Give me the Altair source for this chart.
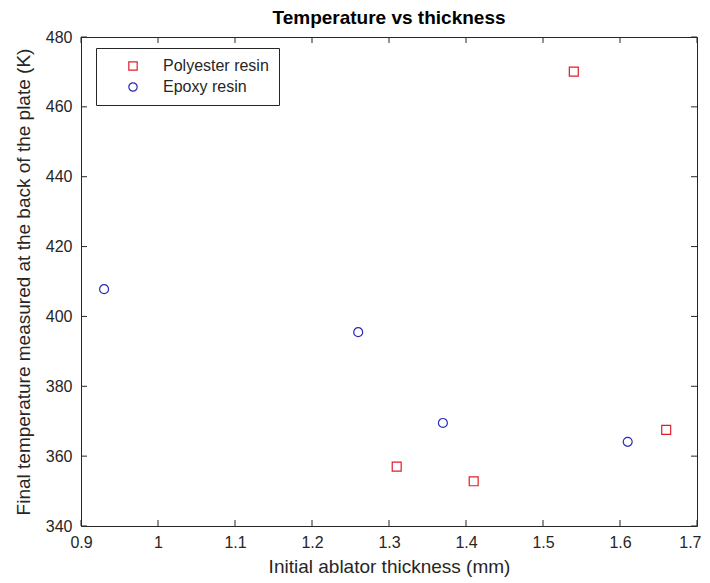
import altair as alt
import pandas as pd

# ---- data ----
poly_x = [1.31, 1.41, 1.54, 1.66]
poly_y = [357.0, 352.8, 470.1, 367.5]
epoxy_x = [0.93, 1.26, 1.37, 1.61]
epoxy_y = [407.8, 395.5, 369.5, 364.1]
series_names = ["Polyester resin", "Epoxy resin"]
x_ticks = [0.9, 1.0, 1.1, 1.2, 1.3, 1.4, 1.5, 1.6, 1.7]
y_ticks = [340, 360, 380, 400, 420, 440, 460, 480]

W, H = 616, 489
INK = "#262626"
FONT = "Liberation Sans"
TICK = 6

df = pd.DataFrame({
    "x": poly_x + epoxy_x,
    "y": poly_y + epoxy_y,
    "series": [series_names[0]] * len(poly_x) + [series_names[1]] * len(epoxy_x),
})
xt = pd.DataFrame({"x": x_ticks})
yt = pd.DataFrame({"y": y_ticks})

xscale = alt.Scale(domain=[0.9, 1.7], nice=False, zero=False)
yscale = alt.Scale(domain=[340, 480], nice=False, zero=False)

last_x = x_ticks[-1]
x_axis = alt.Axis(values=x_ticks, format="~g", title="Initial ablator thickness (mm)",
                  ticks=False, tickSize=0, domain=False, grid=False, labelPadding=8,
                  labelFlush=False, titlePadding=7,
                  labelAlign={"condition": {"test": f"datum.value >= {last_x}", "value": "right"},
                              "value": "center"},
                  labelOffset={"condition": {"test": f"datum.value >= {last_x}", "value": 4},
                               "value": 0})
y_axis = alt.Axis(values=y_ticks, title="Final temperature measured at the back of the plate (K)",
                  ticks=False, tickSize=0, domain=False, grid=False, labelPadding=9,
                  labelFlush=False, titlePadding=12)
X = alt.X("x:Q", scale=xscale, axis=x_axis)
Y = alt.Y("y:Q", scale=yscale, axis=y_axis)

points = alt.Chart(df).mark_point(filled=False, strokeWidth=1.2, size=80, opacity=1).encode(
    x=X,
    y=Y,
    color=alt.Color("series:N",
                    scale=alt.Scale(domain=series_names, range=["#dd1f2b", "#2b2bb5"]),
                    legend=alt.Legend(title=None, orient="none", legendX=15, legendY=11,
                                      fillColor="white", strokeColor=INK, padding=10,
                                      symbolOffset=19, labelOffset=22, rowPadding=5,
                                      labelFontSize=16, labelFont=FONT, labelColor=INK,
                                      symbolStrokeWidth=1.2, symbolSize=70,
                                      symbolFillColor="transparent")),
    shape=alt.Shape("series:N",
                    scale=alt.Scale(domain=series_names, range=["square", "circle"]),
                    legend=None),
)

rule_kw = dict(color=INK, strokeWidth=1)
bottom = alt.Chart(xt).mark_rule(**rule_kw).encode(x=X, y=alt.value(H), y2=alt.value(H - TICK))
top = alt.Chart(xt).mark_rule(**rule_kw).encode(x=X, y=alt.value(0), y2=alt.value(TICK))
left = alt.Chart(yt).mark_rule(**rule_kw).encode(y=Y, x=alt.value(0), x2=alt.value(TICK))
right = alt.Chart(yt).mark_rule(**rule_kw).encode(y=Y, x=alt.value(W), x2=alt.value(W - TICK))

chart = alt.layer(points, bottom, top, left, right).properties(
    width=W, height=H,
    background="white",
    title=alt.Title("Temperature vs thickness", font=FONT, fontSize=19, fontWeight="bold",
                    color="black", anchor="middle", offset=1, frame="group"),
    autosize=alt.AutoSizeParams(type="none"),
    padding={"left": 73, "top": 29, "right": 5, "bottom": 52},
).configure_view(stroke=INK, strokeWidth=1).configure_axis(
    labelFont=FONT, titleFont=FONT, labelFontSize=16, titleFontSize=19,
    labelColor=INK, titleColor=INK, titleFontWeight="normal",
)

chart.save("out.html", embed_options={"renderer": "svg", "actions": False})
